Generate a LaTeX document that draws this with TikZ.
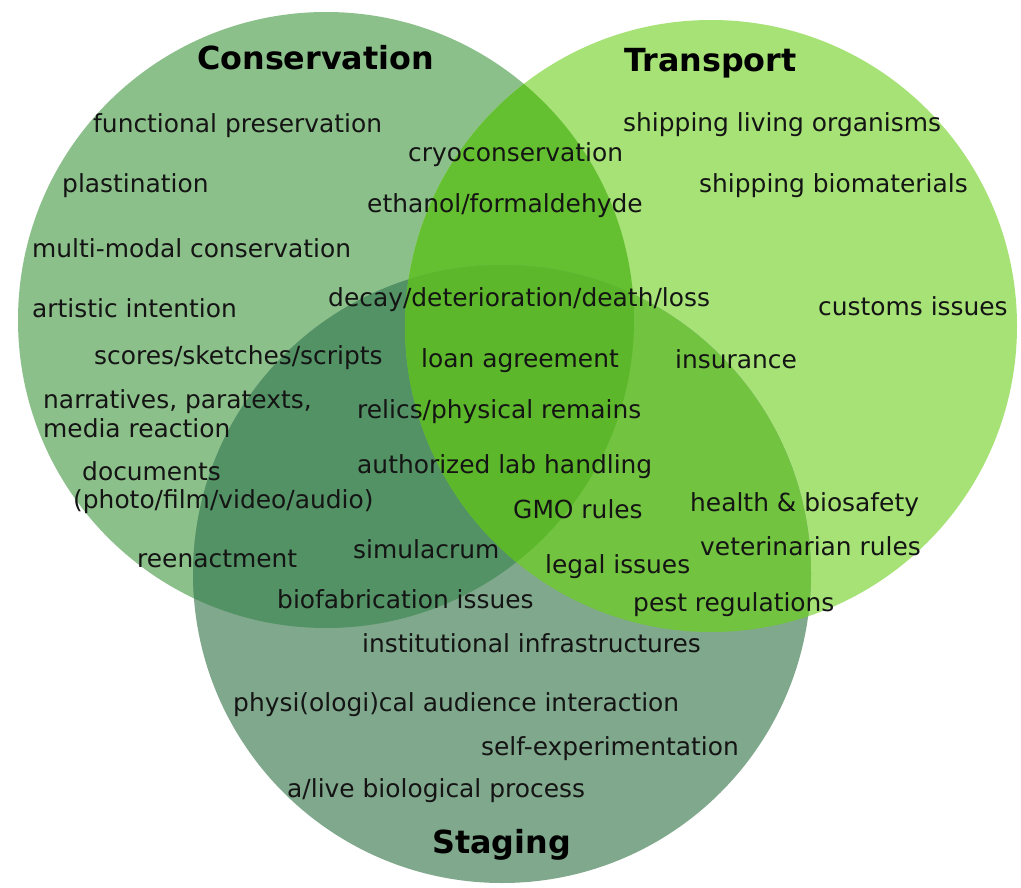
\documentclass[tikz,border=0pt]{standalone}
\usepackage{fontspec}
\setmainfont{DejaVu Sans}
\definecolor{cC}{RGB}{140,192,138}
\definecolor{cT}{RGB}{166,226,118}
\definecolor{cS}{RGB}{128,168,140}
\definecolor{cCT}{RGB}{100,192,48}
\definecolor{cCS}{RGB}{82,146,100}
\definecolor{cTS}{RGB}{114,196,64}
\definecolor{cCTS}{RGB}{92,184,42}
\tikzset{
  lbl/.style={anchor=base west,inner sep=0pt,text=black!92,font=\fontsize{24.9}{29}\selectfont},
  ttl/.style={anchor=base west,inner sep=0pt,text=black,font=\fontsize{31.8}{36}\selectfont\bfseries},
}
\def\circC{(326,320) circle[radius=308]}
\def\circT{(711,326) circle[radius=306]}
\def\circS{(502,574) circle[radius=309]}
\begin{document}
\begin{tikzpicture}[x=1pt,y=-1pt]
\useasboundingbox (0,0) rectangle (1021,888);
\fill[white] (0,0) rectangle (1021,888);
% base circles
\fill[cC] \circC;
\fill[cT] \circT;
\fill[cS] \circS;
% pairwise overlaps
\begin{scope}\clip \circC; \fill[cCT] \circT; \end{scope}
\begin{scope}\clip \circC; \fill[cCS] \circS; \end{scope}
\begin{scope}\clip \circT; \fill[cTS] \circS; \end{scope}
% triple overlap
\begin{scope}\clip \circC; \clip \circT; \fill[cCTS] \circS; \end{scope}

% titles
\node[ttl] (tC) at (197,70) {Conservation};
\node[ttl] (tT) at (624,72) {Transport};
\node[ttl] (tS) at (432,853) {Staging};

% conservation
\node[lbl] (n1) at (93,133) {functional preservation};
\node[lbl] (n2) at (408,162) {cryoconservation};
\node[lbl] (n3) at (62,193) {plastination};
\node[lbl] (n4) at (367,212) {ethanol/formaldehyde};
\node[lbl] (n5) at (32,257) {multi-modal conservation};
\node[lbl] (n6) at (328,306) {decay/deterioration/death/loss};
\node[lbl] (n7) at (32,317) {artistic intention};
\node[lbl] (n8) at (94,364) {scores/sketches/scripts};
\node[lbl] (n9) at (421,367) {loan agreement};
\node[lbl] (n10) at (43,408) {narratives, paratexts,};
\node[lbl] (n11) at (357,418) {relics/physical remains};
\node[lbl] (n12) at (43,437) {media reaction};
\node[lbl] (n13) at (82,480) {documents};
\node[lbl] (n14) at (73,508) {(photo/film/video/audio)};
\node[lbl] (n15) at (357,473) {authorized lab handling};
\node[lbl] (n16) at (353,558) {simulacrum};
\node[lbl] (n17) at (137,567) {reenactment};
\node[lbl] (n18) at (277,608) {biofabrication issues};

% transport
\node[lbl] (m1) at (623,132) {shipping living organisms};
\node[lbl] (m2) at (699,193) {shipping biomaterials};
\node[lbl] (m3) at (818,315) {customs issues};
\node[lbl] (m4) at (675,368) {insurance};
\node[lbl] (m5) at (513,518) {GMO rules};
\node[lbl] (m6) at (690,511) {health \& biosafety};
\node[lbl] (m7) at (700,555) {veterinarian rules};
\node[lbl] (m8) at (545,573) {legal issues};
\node[lbl] (m9) at (633,611) {pest regulations};

% staging
\node[lbl] (s1) at (362,652) {institutional infrastructures};
\node[lbl] (s2) at (233,711) {physi(ologi)cal audience interaction};
\node[lbl] (s3) at (481,755) {self-experimentation};
\node[lbl] (s4) at (287,797) {a/live biological process};
\end{tikzpicture}
\end{document}
